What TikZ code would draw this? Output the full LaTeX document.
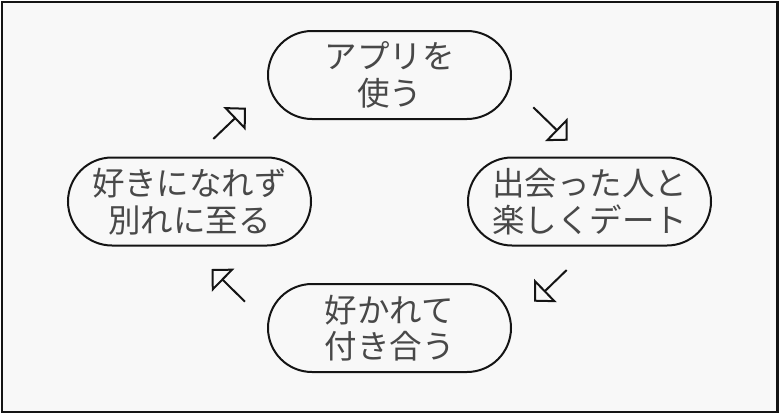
\documentclass[tikz,border=0pt]{standalone}
\usepackage{fontspec}
\newfontfamily\jp{Noto Sans CJK JP}
\usetikzlibrary{arrows.meta}
\definecolor{bgc}{RGB}{248,248,248}
\definecolor{txtc}{RGB}{72,72,72}
\definecolor{linec}{RGB}{20,20,20}
\begin{document}
\begin{tikzpicture}[x=1pt,y=-1pt,
  stage/.style={draw=linec, line width=2pt, fill=bgc, rounded corners=44pt,
    minimum width=243pt, minimum height=88pt, inner sep=0pt, align=center,
    text=txtc, font=\jp\fontsize{32.5}{36.5}\selectfont},
  flow/.style={draw=linec, line width=2pt,
    -{Triangle[open, length=16pt, width=32pt, line width=2pt]}}]
\useasboundingbox (0,0) rectangle (780,415);
\fill[white] (0,0) rectangle (780,415);
\draw[draw=linec, line width=2.5pt, fill=bgc] (2,2) rectangle (777.5,412);
\node[stage] (app) at (389.5,75) {アプリを\\使う};
\node[stage] (date) at (589.5,201.5) {出会った人と\\楽しくデート};
\node[stage] (love) at (389.5,328) {好かれて\\付き合う};
\node[stage] (part) at (189.5,201.5) {好きになれず\\別れに至る};
\coordinate (a1s) at (533.3,107.3); \coordinate (a1e) at (567.7,140.7);
\coordinate (a2s) at (566.7,270);   \coordinate (a2e) at (534,301.7);
\coordinate (a3s) at (245,301.7);   \coordinate (a3e) at (211.7,269);
\coordinate (a4s) at (213.3,139);   \coordinate (a4e) at (246,107.7);
\draw[flow] (a1s) -- (a1e);
\draw[flow] (a2s) -- (a2e);
\draw[flow] (a3s) -- (a3e);
\draw[flow] (a4s) -- (a4e);
\end{tikzpicture}
\end{document}
